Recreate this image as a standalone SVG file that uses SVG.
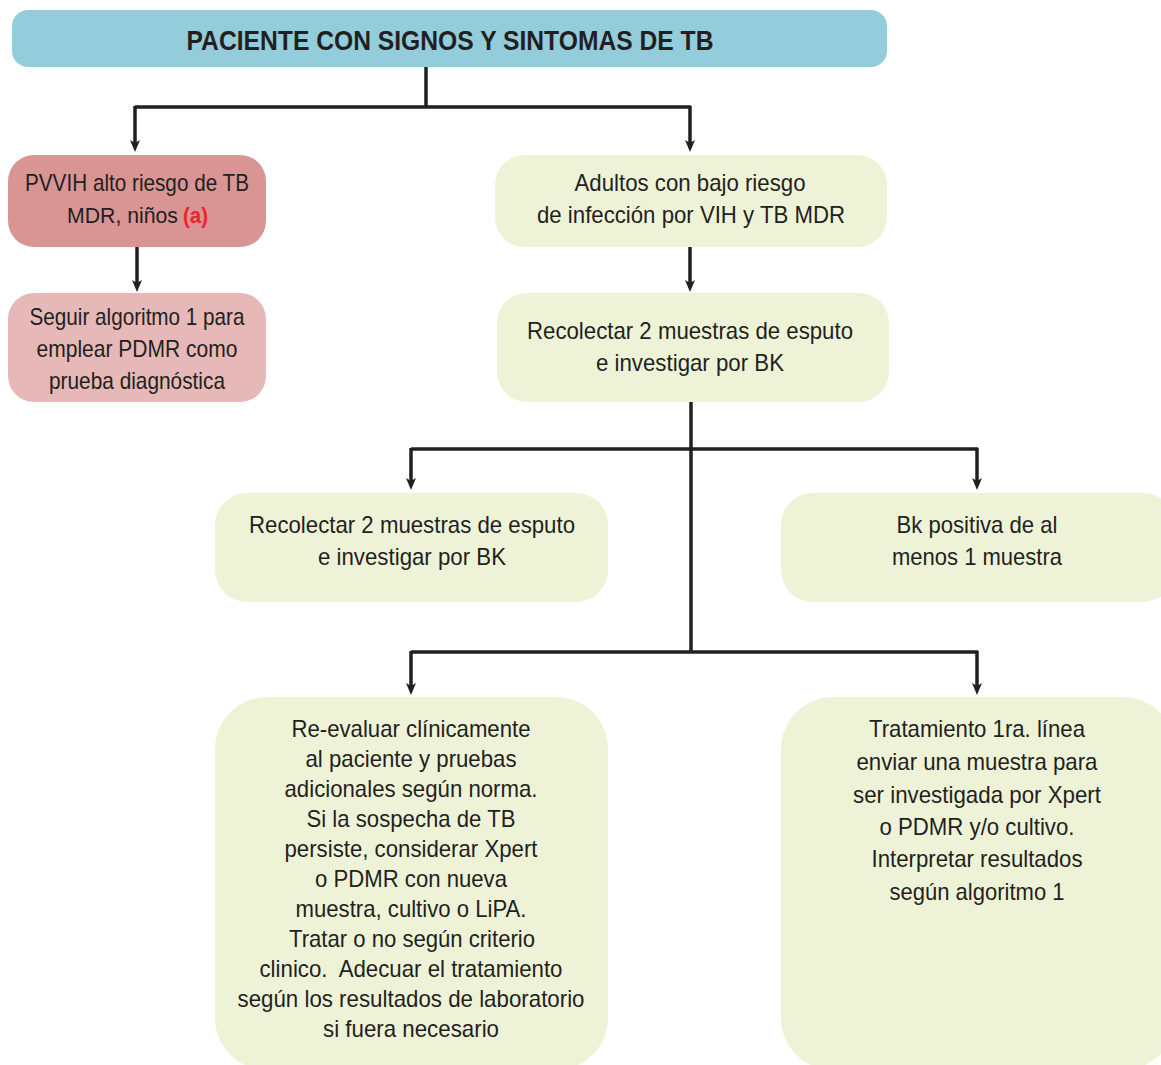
<svg xmlns="http://www.w3.org/2000/svg" width="1161" height="1065" viewBox="0 0 1161 1065">
<style>
.t{font-family:"Liberation Sans",Arial,sans-serif;font-size:24px;fill:#231f20;text-anchor:middle}
.h{font-family:"Liberation Sans",Arial,sans-serif;font-size:28px;font-weight:bold;fill:#231f20;text-anchor:middle}
.red{font-family:"Liberation Sans",Arial,sans-serif;font-size:22px;fill:#e8262b;font-weight:bold}
.c{fill:none;stroke:#231f20;stroke-width:3.5}
.g{fill:#eef3d8}
</style>
<defs>
<marker id="ah" viewBox="0 0 12 10" refX="6" refY="5" markerWidth="12" markerHeight="10" markerUnits="userSpaceOnUse" orient="auto">
<path d="M0,0 L12,5 L0,10 L3,5 z" fill="#231f20"/>
</marker>
</defs>
<rect width="1161" height="1065" fill="#ffffff"/>
<g id="connectors">
<path class="c" d="M426,67 V107 M135,107 H691" />
<path class="c" d="M135,106 V146" marker-end="url(#ah)"/>
<path class="c" d="M690,106 V146" marker-end="url(#ah)"/>
<path class="c" d="M137,247 V286" marker-end="url(#ah)"/>
<path class="c" d="M690,247 V286" marker-end="url(#ah)"/>
<path class="c" d="M691,402 V652 M411,449 H978 M411,652 H978"/>
<path class="c" d="M411,448 V484" marker-end="url(#ah)"/>
<path class="c" d="M977,448 V484" marker-end="url(#ah)"/>
<path class="c" d="M411,651 V689" marker-end="url(#ah)"/>
<path class="c" d="M977,651 V689" marker-end="url(#ah)"/>
</g>
<g id="n-top">
<rect x="12" y="10" width="875" height="57" rx="16" fill="#93cddc"/>
<text class="h" x="450" y="50" textLength="527" lengthAdjust="spacingAndGlyphs">PACIENTE CON SIGNOS Y SINTOMAS DE TB</text>
</g>
<g id="n-pvvih">
<rect x="8" y="155" width="258" height="92" rx="26" fill="#d99594"/>
<text class="t" x="137" y="191" textLength="224" lengthAdjust="spacingAndGlyphs">PVVIH alto riesgo de TB</text>
<text class="t" x="67" y="223" style="text-anchor:start;font-size:22px" textLength="111" lengthAdjust="spacingAndGlyphs">MDR, niños</text>
<text class="red" x="183" y="223" textLength="25" lengthAdjust="spacingAndGlyphs">(a)</text>
</g>
<g id="n-seguir">
<rect x="8" y="293" width="258" height="109" rx="26" fill="#e6b8b7"/>
<text class="t" x="137" y="325" textLength="215" lengthAdjust="spacingAndGlyphs">Seguir algoritmo 1 para</text>
<text class="t" x="137" y="357" textLength="201" lengthAdjust="spacingAndGlyphs">emplear PDMR como</text>
<text class="t" x="137" y="389" textLength="176" lengthAdjust="spacingAndGlyphs">prueba diagnóstica</text>
</g>
<g id="n-adultos">
<rect class="g" x="495" y="155" width="392" height="92" rx="30"/>
<text class="t" x="690" y="191" textLength="231" lengthAdjust="spacingAndGlyphs">Adultos con bajo riesgo</text>
<text class="t" x="691" y="223" textLength="308" lengthAdjust="spacingAndGlyphs">de infección por VIH y TB MDR</text>
</g>
<g id="n-recolectar1">
<rect class="g" x="497" y="293" width="392" height="109" rx="30"/>
<text class="t" x="690" y="339" textLength="326" lengthAdjust="spacingAndGlyphs">Recolectar 2 muestras de esputo</text>
<text class="t" x="690" y="371" textLength="188" lengthAdjust="spacingAndGlyphs">e investigar por BK</text>
</g>
<g id="n-recolectar2">
<rect class="g" x="215" y="493" width="393" height="109" rx="32"/>
<text class="t" x="412" y="533" textLength="326" lengthAdjust="spacingAndGlyphs">Recolectar 2 muestras de esputo</text>
<text class="t" x="412" y="565" textLength="188" lengthAdjust="spacingAndGlyphs">e investigar por BK</text>
</g>
<g id="n-bkpos">
<rect class="g" x="781" y="493" width="394" height="109" rx="32"/>
<text class="t" x="977" y="533" textLength="161" lengthAdjust="spacingAndGlyphs">Bk positiva de al</text>
<text class="t" x="977" y="565" textLength="170" lengthAdjust="spacingAndGlyphs">menos 1 muestra</text>
</g>
<g id="n-reevaluar">
<rect class="g" x="215" y="697" width="393" height="373" rx="52"/>
<text class="t" x="411" y="737" textLength="239" lengthAdjust="spacingAndGlyphs">Re-evaluar clínicamente</text>
<text class="t" x="411" y="767" textLength="211" lengthAdjust="spacingAndGlyphs">al paciente y pruebas</text>
<text class="t" x="411" y="797" textLength="253" lengthAdjust="spacingAndGlyphs">adicionales según norma.</text>
<text class="t" x="411" y="827" textLength="209" lengthAdjust="spacingAndGlyphs">Si la sospecha de TB</text>
<text class="t" x="411" y="857" textLength="253" lengthAdjust="spacingAndGlyphs">persiste, considerar Xpert</text>
<text class="t" x="411" y="887" textLength="192" lengthAdjust="spacingAndGlyphs">o PDMR con nueva</text>
<text class="t" x="411" y="917" textLength="231" lengthAdjust="spacingAndGlyphs">muestra, cultivo o LiPA.</text>
<text class="t" x="412" y="947" textLength="246" lengthAdjust="spacingAndGlyphs">Tratar o no según criterio</text>
<text class="t" x="411" y="977" textLength="303" lengthAdjust="spacingAndGlyphs" xml:space="preserve">clinico.  Adecuar el tratamiento</text>
<text class="t" x="411" y="1007" textLength="347" lengthAdjust="spacingAndGlyphs">según los resultados de laboratorio</text>
<text class="t" x="411" y="1037" textLength="176" lengthAdjust="spacingAndGlyphs">si fuera necesario</text>
</g>
<g id="n-tratamiento">
<rect class="g" x="781" y="697" width="394" height="373" rx="52"/>
<text class="t" x="977" y="737" textLength="216" lengthAdjust="spacingAndGlyphs">Tratamiento 1ra. línea</text>
<text class="t" x="977" y="770" textLength="241" lengthAdjust="spacingAndGlyphs">enviar una muestra para</text>
<text class="t" x="977" y="803" textLength="248" lengthAdjust="spacingAndGlyphs">ser investigada por Xpert</text>
<text class="t" x="977" y="835" textLength="195" lengthAdjust="spacingAndGlyphs">o PDMR y/o cultivo.</text>
<text class="t" x="977" y="867" textLength="211" lengthAdjust="spacingAndGlyphs">Interpretar resultados</text>
<text class="t" x="977" y="900" textLength="175" lengthAdjust="spacingAndGlyphs">según algoritmo 1</text>
</g>
</svg>
